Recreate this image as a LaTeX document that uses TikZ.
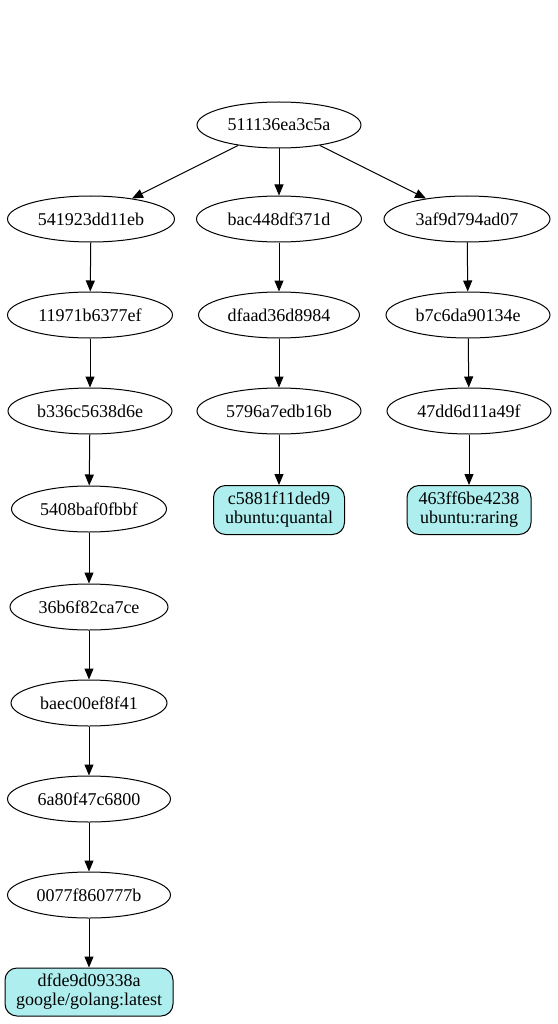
\documentclass[tikz,border=0pt]{standalone}
\usepackage{fontspec}
\setmainfont{Liberation Serif}
\usetikzlibrary{shapes.geometric,arrows.meta}
\definecolor{tagfill}{HTML}{AFEEEE}
\begin{document}
\begin{tikzpicture}[x=1pt,y=-1pt,
  every node/.style={font=\fontsize{18}{19}\selectfont},
  img/.style={draw,ellipse,line width=1pt,inner sep=0pt,minimum height=46pt,minimum width=#1},
  img/.default=162pt,
  tag/.style={draw,rounded corners=12pt,fill=tagfill,line width=1pt,align=center,inner sep=0pt,minimum height=49pt,minimum width=#1},
  edge/.style={-{Triangle[length=11pt,width=9pt]},line width=1pt}]
\useasboundingbox (0,0) rectangle (557,1024);
\node[img=164pt] (r) at (279,125) {511136ea3c5a};
\node[img=167pt] (a1) at (91,219) {541923dd11eb};
\node[img=165pt] (b1) at (279,219) {bac448df371d};
\node[img=166pt] (c1) at (467,219) {3af9d794ad07};
\node[img=165pt] (a2) at (90,315) {11971b6377ef};
\node[img=161pt] (b2) at (279,315) {dfaad36d8984};
\node[img=164pt] (c2) at (468,315) {b7c6da90134e};
\node[img=164pt] (a3) at (90,411) {b336c5638d6e};
\node[img=164pt] (b3) at (279,411) {5796a7edb16b};
\node[img=164pt] (c3) at (469,411) {47dd6d11a49f};
\node[img=155pt] (a4) at (89,509) {5408baf0fbbf};
\node[tag=131pt] (b4) at (279,510) {c5881f11ded9\\ubuntu:quantal};
\node[tag=124pt] (c4) at (469,510) {463ff6be4238\\ubuntu:raring};
\node[img=158pt] (a5) at (89,607) {36b6f82ca7ce};
\node[img=156pt] (a6) at (89,703) {baec00ef8f41};
\node[img=163pt] (a7) at (89,799) {6a80f47c6800};
\node[img=163pt] (a8) at (89,895) {0077f860777b};
\node[tag=168pt,minimum height=48pt] (a9) at (89,992) {dfde9d09338a\\google/golang:latest};
\draw[edge] (r) -- (a1);
\draw[edge] (r) -- (b1);
\draw[edge] (r) -- (c1);
\draw[edge] (a1) -- (a2);
\draw[edge] (a2) -- (a3);
\draw[edge] (a3) -- (a4);
\draw[edge] (a4) -- (a5);
\draw[edge] (a5) -- (a6);
\draw[edge] (a6) -- (a7);
\draw[edge] (a7) -- (a8);
\draw[edge] (a8) -- (a9);
\draw[edge] (b1) -- (b2);
\draw[edge] (b2) -- (b3);
\draw[edge] (b3) -- (b4);
\draw[edge] (c1) -- (c2);
\draw[edge] (c2) -- (c3);
\draw[edge] (c3) -- (c4);
\end{tikzpicture}
\end{document}
